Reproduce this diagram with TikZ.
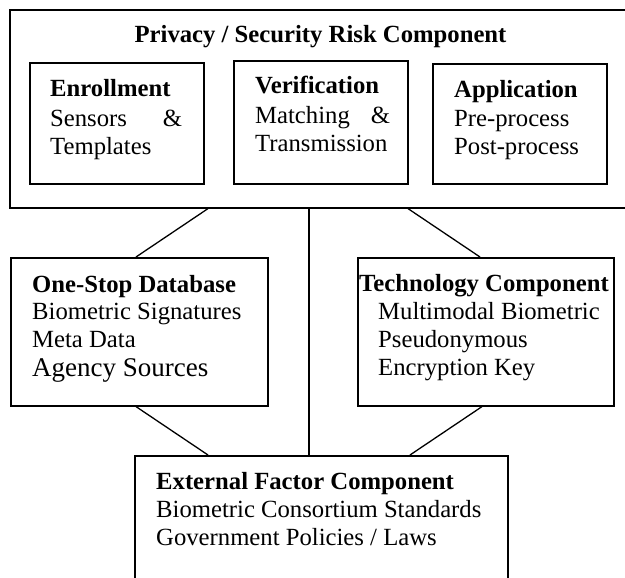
\documentclass[tikz,border=0pt]{standalone}
\usepackage{fontspec}
\setmainfont{Liberation Serif}
\begin{document}
\begin{tikzpicture}[x=1pt,y=-1pt,
  box/.style={draw, line width=1.6pt, inner sep=0pt, anchor=north west},
  link/.style={line width=1.3pt},
  txt/.style={anchor=base west, inner sep=0pt, font=\fontsize{24.7}{28}\selectfont},
  hd/.style={txt, font=\fontsize{24.7}{28}\selectfont\bfseries},
  big/.style={txt, font=\fontsize{27}{30}\selectfont}]
\useasboundingbox (0,0) rectangle (625,578);
% boxes
\node[box, minimum width=618pt, minimum height=198pt] (outer) at (9,9) {};
\node[box, minimum width=174pt, minimum height=121pt] (enr) at (29,62) {};
\node[box, minimum width=174pt, minimum height=123pt] (ver) at (233,60) {};
\node[box, minimum width=174pt, minimum height=120pt] (app) at (432,63) {};
\node[box, minimum width=257pt, minimum height=148pt] (db) at (10,257) {};
\node[box, minimum width=256pt, minimum height=148pt] (tech) at (357,257) {};
\node[box, minimum width=373pt, minimum height=140pt] (ext) at (134,455) {};
% texts
\node[hd, anchor=base] (title) at (320.5,43) {Privacy / Security Risk Component};
\node[hd] (enr1) at (50,97) {Enrollment};
\node[txt] (enr2) at (50,127) {\hbox to 132pt{Sensors\hfill\&}};
\node[txt] (enr3) at (50,155) {Templates};
\node[hd] (ver1) at (255,94) {Verification};
\node[txt] (ver2) at (255,124) {\hbox to 135pt{Matching\hfill\&}};
\node[txt] (ver3) at (255,152) {Transmission};
\node[hd] (app1) at (454,98) {Application};
\node[txt] (app2) at (454,127) {Pre-process};
\node[txt] (app3) at (454,155) {Post-process};
\node[hd] (db1) at (32,292) {One-Stop Database};
\node[txt] (db2) at (32,319) {Biometric Signatures};
\node[txt] (db3) at (32,347) {Meta Data};
\node[big] (db4) at (32,376) {Agency Sources};
\node[hd] (tech1) at (359,291) {Technology Component};
\node[txt] (tech2) at (378,319) {Multimodal Biometric};
\node[txt] (tech3) at (378,347) {Pseudonymous};
\node[txt] (tech4) at (378,375) {Encryption Key};
\node[hd] (ext1) at (156,489) {External Factor Component};
\node[txt] (ext2) at (156,517) {Biometric Consortium Standards};
\node[txt] (ext3) at (156,545) {Government Policies / Laws};
% connectors
\draw[link] ([xshift=199pt]outer.south west) -- ([xshift=126pt]db.north west);
\draw[link] ([xshift=300pt]outer.south west) -- ([xshift=175pt]ext.north west);
\draw[link] ([xshift=399pt]outer.south west) -- ([xshift=123pt]tech.north west);
\draw[link] ([xshift=126pt]db.south west) -- ([xshift=74pt]ext.north west);
\draw[link] ([xshift=125pt]tech.south west) -- ([xshift=276pt]ext.north west);
\end{tikzpicture}
\end{document}
